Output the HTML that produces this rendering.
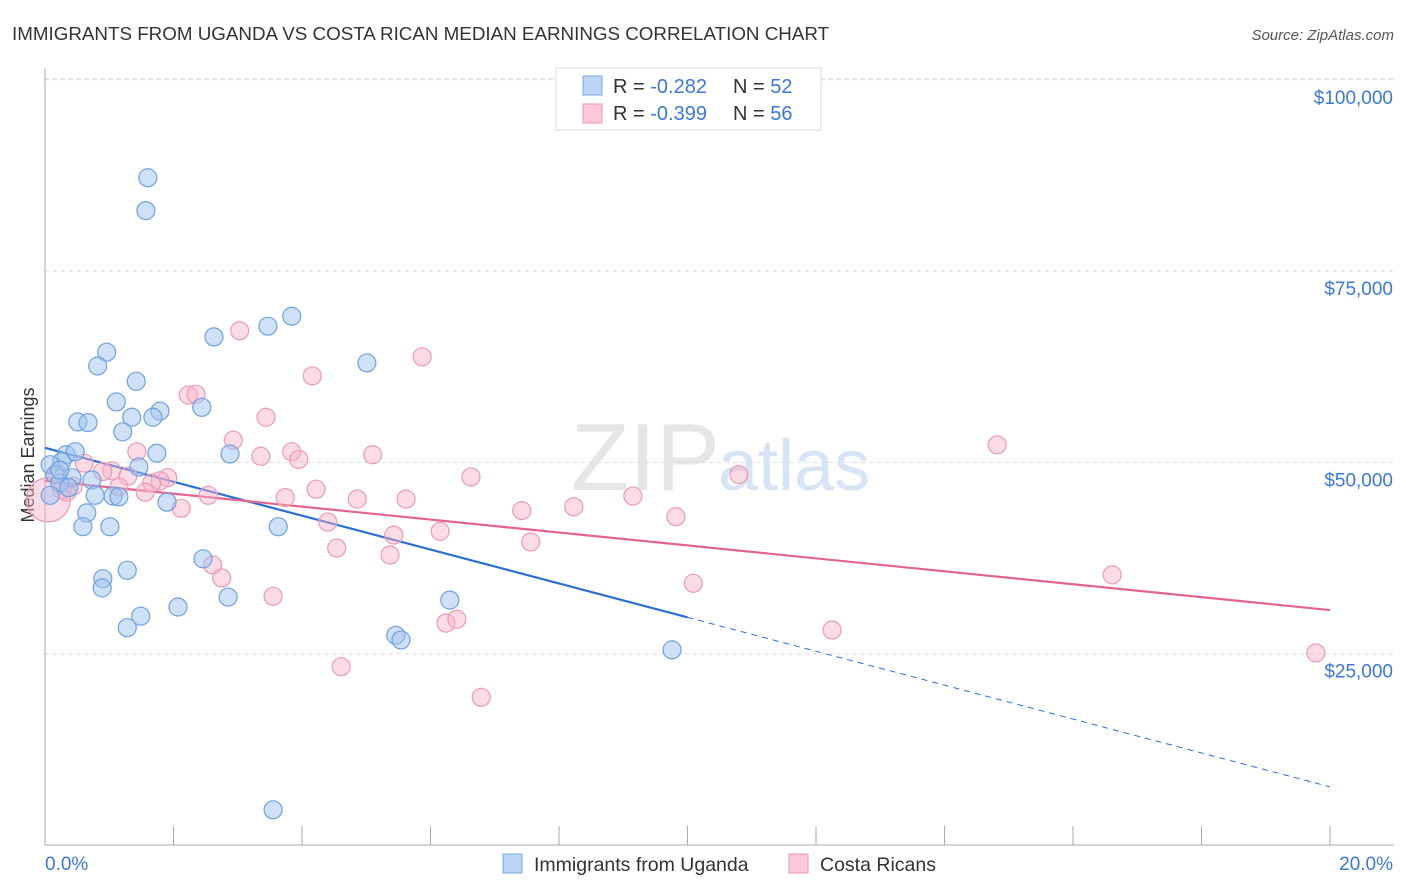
<!DOCTYPE html>
<html><head><meta charset="utf-8">
<style>
body{margin:0;background:#fff;font-family:"Liberation Sans",sans-serif;}
#wrap{position:relative;width:1406px;height:892px;overflow:hidden;}
text{font-family:"Liberation Sans",sans-serif;}
</style></head>
<body>
<div id="wrap">
<svg id="chart" width="1406" height="892">
<text x="12" y="40" font-size="18.8" fill="#333">IMMIGRANTS FROM UGANDA VS COSTA RICAN MEDIAN EARNINGS CORRELATION CHART</text>
<text x="1394" y="40" font-size="15" fill="#555" font-style="italic" text-anchor="end">Source: ZipAtlas.com</text>
<text x="720" y="490" font-size="96" fill="#e6e6e6" text-anchor="end" font-family="Liberation Serif">ZIP</text>
<text x="718" y="490" font-size="72" fill="#d6e4f5">atlas</text>
<text transform="translate(34,455) rotate(-90)" font-size="18" fill="#333" text-anchor="middle">Median Earnings</text>
<g id="grid"></g><g id="axes"></g><g id="lines"></g><g id="pts"></g>
<g>
<rect x="556" y="68" width="265" height="62" fill="#fff" stroke="#ddd"/>
<rect x="583" y="76" width="19" height="19" fill="#bcd5f5" stroke="#7aa8e6"/>
<rect x="583" y="104" width="19" height="19" fill="#fbc9d8" stroke="#ec96b3"/>
<text x="613" y="93" font-size="20" fill="#333">R = <tspan fill="#3c78d8">-0.282</tspan><tspan x="733">N = </tspan><tspan fill="#3c78d8">52</tspan></text>
<text x="613" y="120" font-size="20" fill="#333">R = <tspan fill="#3c78d8">-0.399</tspan><tspan x="733">N = </tspan><tspan fill="#3c78d8">56</tspan></text>
</g>
<g>
<rect x="503" y="854" width="19" height="19" fill="#bcd5f5" stroke="#7aa8e6"/>
<text x="534" y="871" font-size="19.5" fill="#333">Immigrants from Uganda</text>
<rect x="789" y="854" width="19" height="19" fill="#fbc9d8" stroke="#ec96b3"/>
<text x="820" y="871" font-size="19.5" fill="#333">Costa Ricans</text>
</g>
</svg>
</div>
<script>
const yTicks=[25000,50000,75000,100000];
const yTickLabels=["$25,000","$50,000","$75,000","$100,000"];
const ugandaX=[1.60,1.57,3.84,3.47,2.63,5.01,0.96,0.82,1.42,1.11,2.44,1.79,1.68,1.35,0.51,0.67,1.21,1.74,2.88,0.33,0.47,0.26,1.46,0.08,0.16,0.42,0.73,0.23,0.37,0.78,1.06,1.15,1.90,0.65,0.08,3.63,1.01,0.59,1.28,2.46,0.90,0.89,2.85,6.30,2.07,1.49,1.28,5.46,5.54,9.76,3.55,0.23];
const ugandaY=[87200,82900,69100,67800,66400,63000,64400,62600,60600,57900,57200,56700,55900,55900,55300,55200,54000,51200,51100,51000,51400,50100,49400,49700,48400,48000,47700,47300,46700,45700,45600,45500,44800,43400,45700,41600,41600,41600,35900,37400,34800,33600,32400,32000,31100,29900,28400,27400,26800,25500,4600,49000];
const costaX=[3.03,5.87,4.16,2.23,2.35,3.44,2.93,14.82,3.84,1.43,3.36,5.10,3.95,0.61,10.80,6.63,1.04,1.29,1.91,1.79,1.66,1.15,4.22,0.44,1.56,0.34,2.54,9.15,3.74,4.86,5.62,2.12,8.23,7.42,9.82,4.40,6.15,5.43,7.56,4.54,5.37,2.61,2.75,10.09,16.61,3.55,6.24,6.41,12.25,4.61,6.79,19.78,0.05,0.20,0.26,0.9];
const costaY=[67200,63800,61300,58800,58900,55900,52900,52300,51400,51400,50800,51000,50400,49900,48400,48100,48900,48200,48000,47600,47300,46800,46500,46900,46100,46100,45700,45600,45400,45200,45200,44000,44200,43700,42900,42200,41000,40500,39600,38800,37900,36600,34900,34200,35300,32500,29000,29500,28100,23300,19300,25100,45100,48500,46400,48800];
const ugandaTrend=[51900,7600];
const costaTrend=[47600,30700];
const NS="http://www.w3.org/2000/svg";
const X0=45,X1=1330,YB=845,PXPER=191.3/25000;
function xs(v){return X0+(X1-X0)*v/20;}
function ys(v){return YB-v*PXPER;}
function mk(tag,attrs,parent){const e=document.createElementNS(NS,tag);for(const k in attrs)e.setAttribute(k,attrs[k]);parent.appendChild(e);return e;}
const gridG=document.getElementById('grid'),axesG=document.getElementById('axes'),linesG=document.getElementById('lines'),ptsG=document.getElementById('pts');
yTicks.forEach((t,i)=>{
 const l=mk('line',{x1:X0,x2:1394,y1:ys(t),y2:ys(t),stroke:'#ddd','stroke-dasharray':'4,4'},gridG);
 
 
 const tx=mk('text',{x:1393,y:ys(t)+24,'font-size':19,fill:'#3c78d8','text-anchor':'end'},axesG);
 tx.textContent=yTickLabels[i];
 
 
});
const topGrid=mk('line',{x1:X0,x2:1394,y1:79,y2:79,stroke:'#ddd','stroke-dasharray':'4,4'},gridG);


const ya=mk('line',{x1:X0,x2:X0,y1:68,y2:YB,stroke:'#aaa'},axesG);


const xa=mk('line',{x1:X0,x2:1394,y1:YB,y2:YB,stroke:'#aaa'},axesG);


for(let i=0;i<=10;i++){const tk=mk('line',{x1:xs(i*2),x2:xs(i*2),y1:826,y2:YB,stroke:'#aaa'},axesG);
 
 }
const xl0=mk('text',{x:45,y:870,'font-size':19,fill:'#3c78d8'},axesG);xl0.textContent='0.0%';


const xl1=mk('text',{x:1393,y:870,'font-size':19,fill:'#3c78d8','text-anchor':'end'},axesG);xl1.textContent='20.0%';


function drawPts(X,Y,fill,stroke,name){X.forEach((x,i)=>{
 const r=(i===X.length-4&&name==='costa-rica-point')?22:9;
 const c=mk('circle',{cx:xs(x),cy:ys(Y[i]),r:r,fill:fill,stroke:stroke,'stroke-width':1.2},ptsG);
 
 
});}
drawPts(costaX,costaY,'rgba(246,178,200,0.45)','#eb9ab5','costa-rica-point');
drawPts(ugandaX,ugandaY,'rgba(160,196,240,0.5)','#6fa0e0','uganda-point');
const xm=10;
const u1=mk('line',{x1:xs(0),y1:ys(ugandaTrend[0]),x2:xs(xm),y2:ys(ugandaTrend[0]+(ugandaTrend[1]-ugandaTrend[0])*xm/20),stroke:'#2a6fd6','stroke-width':2.2},linesG);


const u2=mk('line',{x1:xs(xm),y1:ys(ugandaTrend[0]+(ugandaTrend[1]-ugandaTrend[0])*xm/20),x2:xs(20),y2:ys(ugandaTrend[1]),stroke:'#2a6fd6','stroke-width':1,'stroke-dasharray':'6,5'},linesG);


const c1=mk('line',{x1:xs(0),y1:ys(costaTrend[0]),x2:xs(20),y2:ys(costaTrend[1]),stroke:'#e4648f','stroke-width':2.2},linesG);


</script>
</body></html>
